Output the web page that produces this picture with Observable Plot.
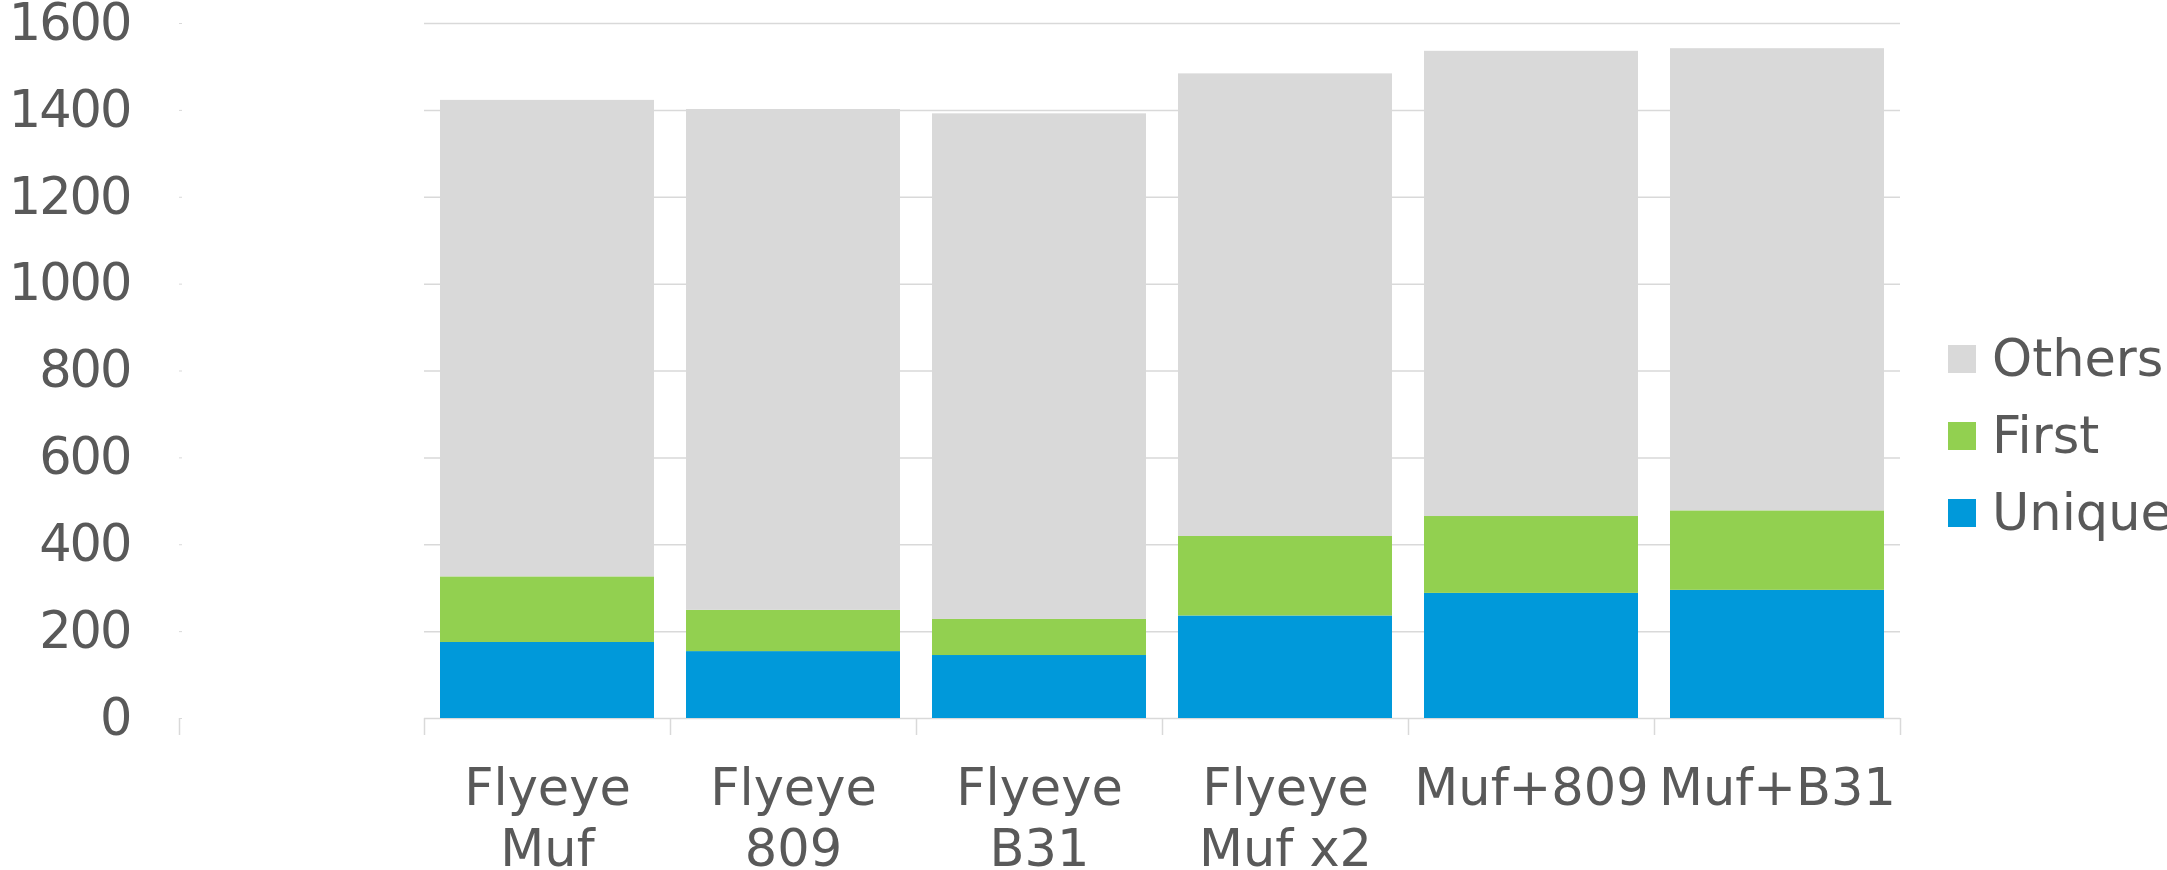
<!DOCTYPE html>
<html><head><meta charset="utf-8">
<script src="https://cdn.jsdelivr.net/npm/d3@7"></script>
<script src="https://cdn.jsdelivr.net/npm/@observablehq/plot@0.6"></script>
<style>
body{margin:0;background:#fff;}
#wrap{position:relative;width:2167px;height:870px;overflow:hidden;font-family:"DejaVu Sans";}
#legend{position:absolute;left:1948px;top:320px;}
.row{display:flex;align-items:center;height:77px;white-space:nowrap;}
.sw{width:28px;height:28px;margin-right:16px;flex:none;}
.lab{font-size:51px;color:#595959;line-height:77px;}
.ylab text{letter-spacing:-2px;}
</style></head><body><div id="wrap"><div id="legend"></div></div>
<script>
const categories = ["Flyeye\nMuf","Flyeye\n809","Flyeye\nB31","Flyeye\nMuf x2","Muf+809","Muf+B31"];
const unique = [175,154,145,236,288,295];
const first = [151,95,83,183,177,183];
const others = [1097,1153,1164,1065,1071,1064];
const seriesNames = ["Unique","First","Others"];
const seriesColors = ["#0099da","#92d050","#d9d9d9"];
const legendOrder = ["Others","First","Unique"];
const yTicks = [0,200,400,600,800,1000,1200,1400,1600];

const seriesValues = {Unique: unique, First: first, Others: others};
const data = [];
categories.forEach((c,i)=>{
  seriesNames.forEach(s=>data.push({cat:c, series:s, value:seriesValues[s][i]}));
});

const grid = "#d9d9d9", txt = "#595959";
const chart = Plot.plot({
  width:2167, height:870,
  marginLeft:424, marginRight:267, marginTop:23, marginBottom:152,
  style:{fontFamily:"DejaVu Sans", fontSize:"51px", color:txt, background:"#fff", overflow:"visible"},
  x:{domain:categories, paddingInner:0.132, paddingOuter:0.066, label:null},
  y:{domain:[0,1600], label:null},
  color:{domain:seriesNames, range:seriesColors},
  marks:[
    Plot.gridY(yTicks, {stroke:grid, strokeOpacity:1, strokeWidth:1.5}),
    Plot.barY(data, {x:"cat", y:"value", fill:"series", order:seriesNames}),
    Plot.axisY(yTicks, {anchor:"left", label:null, tickSize:3, tickPadding:49, dx:-242, stroke:grid, fill:txt, fontSize:51, className:"ylab", tickFormat:d=>String(d)}),
    Plot.axisX({anchor:"bottom", label:null, tickSize:0, tickPadding:43, fontSize:51, lineHeight:1.2, fill:txt}),
    Plot.axisX({anchor:"bottom", label:null, tickSize:17, dx:-123, tickFormat:()=>"", stroke:grid, strokeWidth:1.5}),
    Plot.axisX([categories[categories.length-1]], {anchor:"bottom", label:null, tickSize:17, dx:123, tickFormat:()=>"", stroke:grid, strokeWidth:1.5}),
    Plot.axisX([categories[0]], {anchor:"bottom", label:null, tickSize:17, dx:-368, tickFormat:()=>"", stroke:grid, strokeWidth:1.5})
  ]
});
const wrap = document.getElementById("wrap");
wrap.insertBefore(chart, wrap.firstChild);

const legend = document.getElementById("legend");
legendOrder.forEach(s=>{
  const row = document.createElement("div"); row.className="row";
  const sw = document.createElement("div"); sw.className="sw";
  sw.style.background = seriesColors[seriesNames.indexOf(s)];
  const lab = document.createElement("span"); lab.className="lab"; lab.textContent = s;
  row.appendChild(sw); row.appendChild(lab); legend.appendChild(row);
});
</script></body></html>
